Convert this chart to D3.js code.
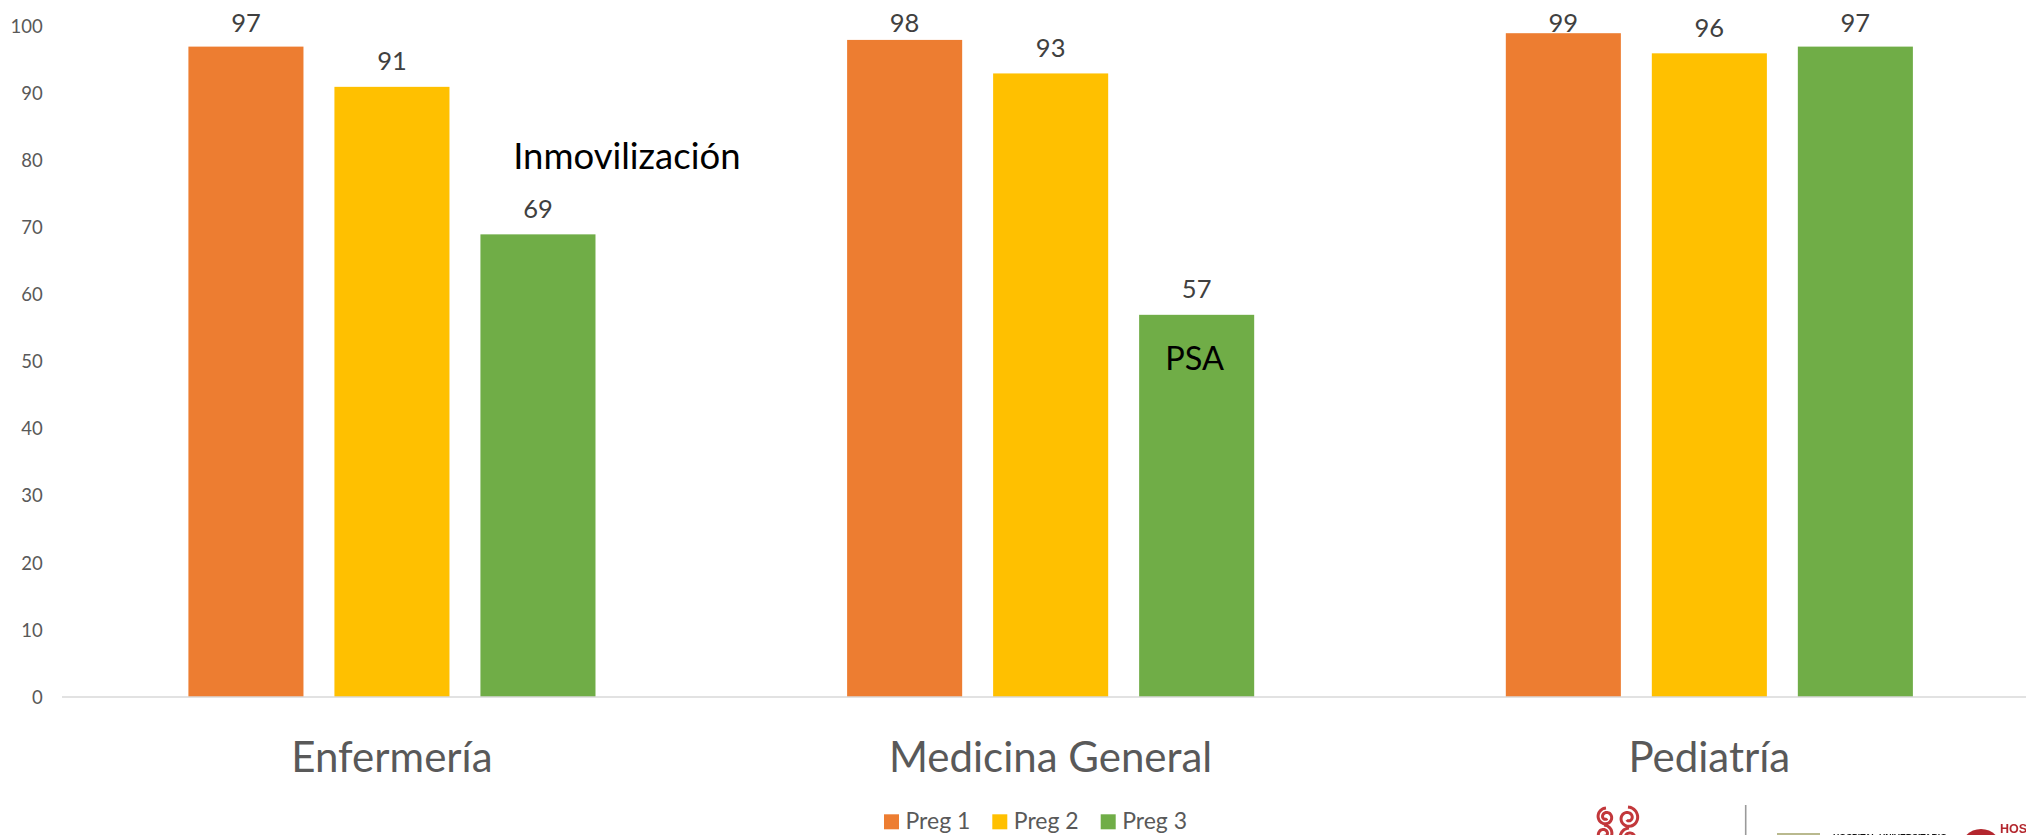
<!DOCTYPE html>
<html lang="es">
<head>
<meta charset="utf-8">
<title>Preguntas por servicio</title>
<script src="https://cdn.jsdelivr.net/npm/d3@7/dist/d3.min.js"></script>
<style>
  html, body { margin: 0; padding: 0; background: #ffffff; }
  svg { display: block; font-family: Lato, "Open Sans", "Noto Sans", sans-serif; }
</style>
</head>
<body>
<svg id="chart" width="2026" height="835"></svg>
<script>
// Categories, series and values
const categories = ["Enfermería", "Medicina General", "Pediatría"];
const seriesNames = ["Preg 1", "Preg 2", "Preg 3"];
const preg1 = [97, 98, 99];
const preg2 = [91, 93, 96];
const preg3 = [69, 57, 97];
const yTicks = [0, 10, 20, 30, 40, 50, 60, 70, 80, 90, 100];
const seriesColors = ["#ED7D31", "#FFC000", "#70AD47"];
// Callout texts placed by the two lowest bars
const callouts = [
  { category: "Enfermería", series: "Preg 3", text: "Inmovilización" },
  { category: "Medicina General", series: "Preg 3", text: "PSA" }
];

const seriesValues = [preg1, preg2, preg3];
const rows = categories.map((c, i) => ({
  category: c,
  values: seriesNames.map((s, j) => ({ series: s, value: seriesValues[j][i] }))
}));

const W = 2026, H = 835;
const svg = d3.select("#chart");

const x0 = d3.scaleBand()
  .domain(categories)
  .range([62.6, 2038.7])
  .paddingInner(0.382)
  .paddingOuter(0.191);

const x1 = d3.scaleBand()
  .domain(seriesNames)
  .range([0, x0.bandwidth()])
  .paddingInner(0.212)
  .paddingOuter(0);

const y = d3.scaleLinear().domain([0, 100]).range([697, 26.5]);

const color = d3.scaleOrdinal().domain(seriesNames).range(seriesColors);

// Value axis labels (no line, no gridlines)
const yAxis = svg.append("g").attr("class", "y-axis");
yAxis.selectAll("text")
  .data(yTicks)
  .join("text")
  .attr("x", 42.7)
  .attr("y", d => y(d) + 6.6)
  .attr("text-anchor", "end")
  .attr("fill", "#595959")
  .attr("font-size", 18.5)
  .text(d => d);

// Bars
const groups = svg.append("g").attr("class", "bars")
  .selectAll("g")
  .data(rows)
  .join("g")
  .attr("transform", d => `translate(${x0(d.category)},0)`);

groups.selectAll("rect")
  .data(d => d.values)
  .join("rect")
  .attr("x", d => x1(d.series))
  .attr("y", d => y(d.value))
  .attr("width", x1.bandwidth())
  .attr("height", d => y(0) - y(d.value))
  .attr("fill", d => color(d.series));

// Value labels above the bars, kept inside the plot area
groups.selectAll("text.value")
  .data(d => d.values)
  .join("text")
  .attr("class", "value")
  .attr("x", d => x1(d.series) + x1.bandwidth() / 2)
  .attr("y", d => Math.max(y(d.value) - 16.5, 32))
  .attr("text-anchor", "middle")
  .attr("fill", "#404040")
  .attr("font-size", 25.5)
  .text(d => d.value);

// Category axis line
svg.append("line")
  .attr("x1", 62).attr("x2", W)
  .attr("y1", y(0)).attr("y2", y(0))
  .attr("stroke", "#d9d9d9")
  .attr("stroke-width", 1.6);

// Category labels
svg.append("g").attr("class", "x-axis")
  .selectAll("text")
  .data(categories)
  .join("text")
  .attr("x", d => x0(d) + x0.bandwidth() / 2)
  .attr("y", 771.7)
  .attr("text-anchor", "middle")
  .attr("fill", "#595959")
  .attr("font-size", 42)
  .text(d => d);

// Callouts: offsets are relative to the bar's left edge and top
const calloutStyle = {
  "Inmovilización": { size: 36.5, anchor: "start", dx: 32.7, dy: -65.5 },
  "PSA": { size: 32.5, anchor: "middle", dx: x1.bandwidth() / 2 - 2, dy: 55.5 }
};
svg.append("g").attr("class", "callouts")
  .selectAll("text")
  .data(callouts)
  .join("text")
  .attr("x", d => x0(d.category) + x1(d.series) + calloutStyle[d.text].dx)
  .attr("y", d => {
    const v = seriesValues[seriesNames.indexOf(d.series)][categories.indexOf(d.category)];
    return y(v) + calloutStyle[d.text].dy;
  })
  .attr("text-anchor", d => calloutStyle[d.text].anchor)
  .attr("fill", "#000000")
  .attr("font-size", d => calloutStyle[d.text].size)
  .text(d => d.text);

// Legend
const legendX = [884, 992.3, 1100.7];
const legend = svg.append("g").attr("class", "legend")
  .selectAll("g")
  .data(seriesNames)
  .join("g")
  .attr("transform", (d, i) => `translate(${legendX[i]},814.3)`);
legend.append("rect")
  .attr("width", 15).attr("height", 15)
  .attr("fill", d => color(d));
legend.append("text")
  .attr("x", 21.5).attr("y", 15)
  .attr("fill", "#595959")
  .attr("font-size", 23)
  .text(d => d);

// Institutional logos along the bottom-right edge
const defs = svg.append("defs");
defs.append("filter").attr("id", "soft")
  .append("feGaussianBlur").attr("stdDeviation", 0.7);

const logos = svg.append("g").attr("class", "logos").attr("filter", "url(#soft)");

// Swirl emblem
function spiral(cx, cy, r, turns, dir) {
  const pts = [];
  const n = 60;
  for (let k = 0; k <= n; k++) {
    const t = k / n;
    const a = dir * t * turns * 2 * Math.PI - Math.PI / 2;
    const rr = r * (1 - 0.8 * t);
    pts.push([cx + rr * Math.cos(a), cy + rr * Math.sin(a)]);
  }
  return d3.line().curve(d3.curveCatmullRom)(pts);
}
const swirls = [
  { cx: 1606, cy: 817, r: 9, dir: -1 },
  { cx: 1628, cy: 818, r: 11, dir: 1 },
  { cx: 1604, cy: 834, r: 9, dir: 1 },
  { cx: 1629, cy: 838, r: 10, dir: -1 }
];
logos.selectAll("path.swirl")
  .data(swirls)
  .join("path")
  .attr("class", "swirl")
  .attr("d", d => spiral(d.cx, d.cy, d.r, 1.6, d.dir))
  .attr("fill", "none")
  .attr("stroke", "#c2373b")
  .attr("stroke-width", 3);

logos.append("line")
  .attr("x1", 1745.7).attr("x2", 1745.7)
  .attr("y1", 805).attr("y2", H)
  .attr("stroke", "#9a9a9a").attr("stroke-width", 1.6);

logos.append("rect")
  .attr("x", 1777).attr("y", 833)
  .attr("width", 43).attr("height", 10)
  .attr("fill", "#b9b98e");

logos.append("text")
  .attr("x", 1833).attr("y", 839.5)
  .attr("font-size", 9.5)
  .attr("font-weight", 700)
  .attr("fill", "#111111")
  .attr("font-family", "Liberation Sans, Arial, sans-serif")
  .attr("textLength", 114)
  .attr("lengthAdjust", "spacingAndGlyphs")
  .text("HOSPITAL UNIVERSITARIO");

logos.append("circle")
  .attr("cx", 1981).attr("cy", 850).attr("r", 21)
  .attr("fill", "#b3282e");

logos.append("text")
  .attr("x", 2000).attr("y", 833)
  .attr("font-size", 12.5)
  .attr("font-weight", 700)
  .attr("fill", "#b3282e")
  .attr("font-family", "Liberation Sans, Arial, sans-serif")
  .text("HOSPITAL");
</script>
</body>
</html>
